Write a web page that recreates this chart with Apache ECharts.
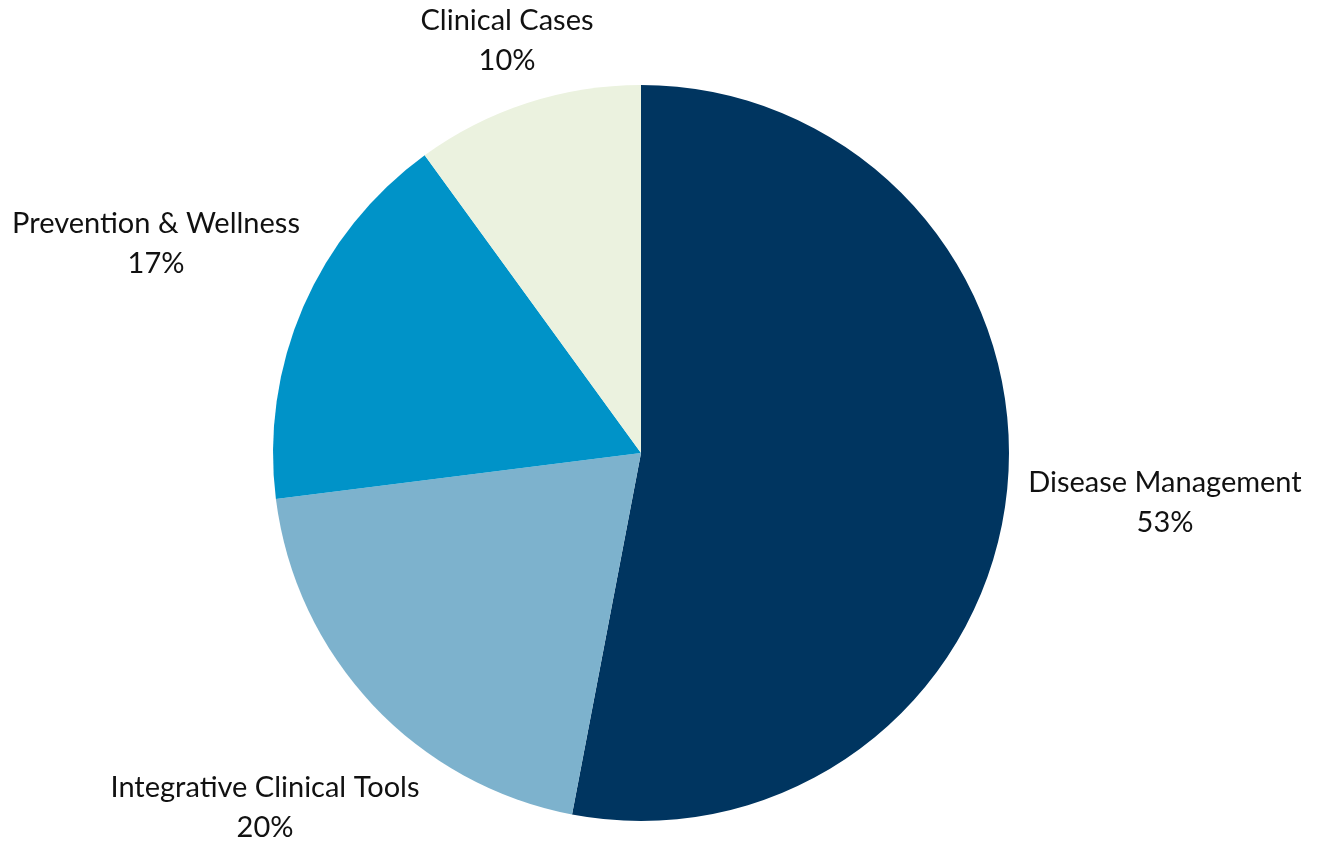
<!DOCTYPE html>
<html>
<head>
<meta charset="utf-8">
<script src="https://cdn.jsdelivr.net/npm/echarts@6/dist/echarts.min.js"></script>
<style>
html,body{margin:0;padding:0;background:#fff;}
#chart{width:1322px;height:842px;}
</style>
</head>
<body>
<div id="chart"></div>
<script>
const categories = ["Disease Management", "Integrative Clinical Tools", "Prevention & Wellness", "Clinical Cases"];
const values = [53, 20, 17, 10];
const colors = ["#003560", "#7db2cd", "#0093c8", "#ebf2df"];

// label centre offsets relative to the pie centre (layout only)
const labelOffsets = [[524, 50], [-376, 355], [-485, -209], [-134, -412]];
const pieCenter = [641, 453];

const chart = echarts.init(document.getElementById('chart'), null, {renderer: 'canvas'});
chart.setOption({
  backgroundColor: '#ffffff',
  animation: false,
  series: [{
    type: 'pie',
    center: pieCenter,
    radius: 368,
    startAngle: 90,
    clockwise: true,
    data: categories.map((c, i) => ({name: c, value: values[i], itemStyle: {color: colors[i]}})),
    label: {
      show: true,
      position: 'outside',
      formatter: p => p.name + '\n' + p.value + '%',
      fontFamily: 'Lato',
      fontSize: 29,
      lineHeight: 40,
      color: '#111111',
      align: 'center',
      overflow: 'none'
    },
    labelLine: {show: false},
    labelLayout: function (p) {
      const o = labelOffsets[p.dataIndex];
      return {x: pieCenter[0] + o[0], y: pieCenter[1] + o[1], align: 'center', verticalAlign: 'middle'};
    }
  }]
});
</script>
</body>
</html>
